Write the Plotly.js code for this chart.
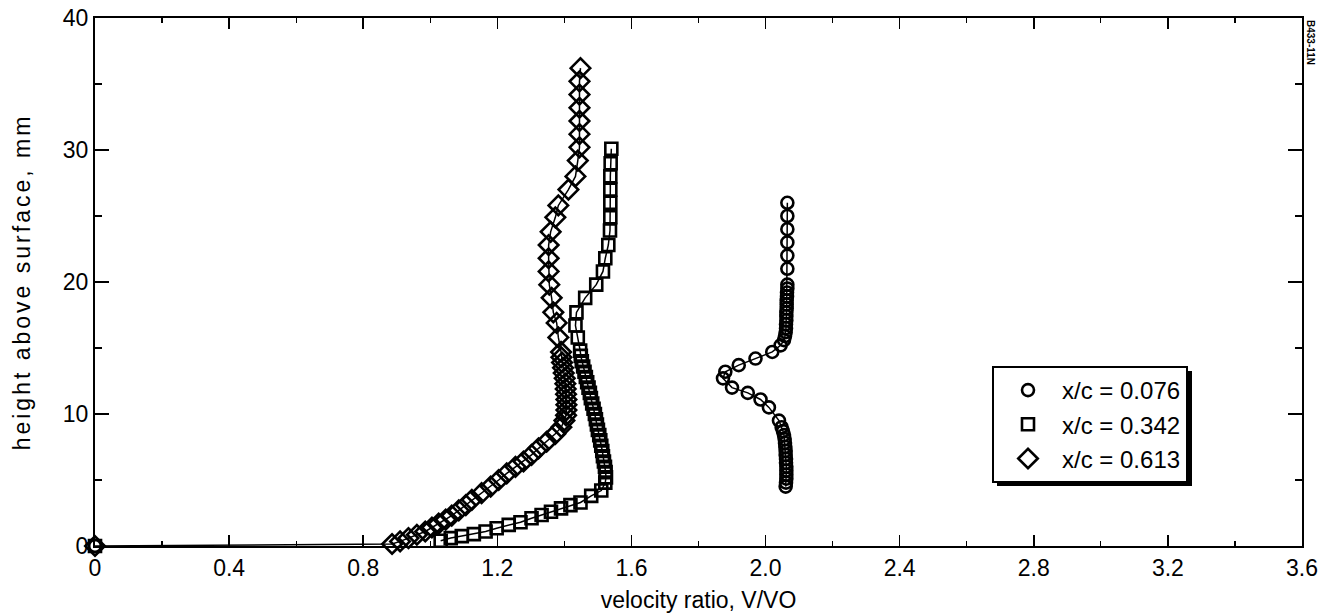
<!DOCTYPE html>
<html>
<head>
<meta charset="utf-8">
<script src="https://cdn.plot.ly/plotly-3.0.1.min.js"></script>
<style>
html,body{margin:0;padding:0;background:#fff;}
#chart{width:1335px;height:615px;}
.ytitle{letter-spacing:3px;}
</style>
</head>
<body>
<div id="chart"></div>
<script>
// x/c = 0.076 (circles)
var circleV = [0, null, 2.060, 2.061, 2.062, 2.062, 2.062, 2.062, 2.061, 2.061, 2.060, 2.060, 2.059, 2.058, 2.057, 2.055, 2.052, 2.048, 2.040, 2.010, 1.985, 1.947, 1.900, 1.873, 1.880, 1.920, 1.970, 2.020, 2.045, 2.055, 2.058, 2.060, 2.061, 2.061, 2.062, 2.062, 2.062, 2.063, 2.063, 2.063, 2.064, 2.064, 2.065, 2.065, 2.065, 2.065, 2.065, 2.065, 2.065, 2.065];
var circleH = [0, null, 4.5, 4.8, 5.1, 5.4, 5.7, 6.0, 6.3, 6.6, 6.9, 7.2, 7.5, 7.8, 8.1, 8.4, 8.7, 9.0, 9.5, 10.5, 11.1, 11.6, 12.0, 12.7, 13.2, 13.7, 14.2, 14.7, 15.2, 15.6, 15.9, 16.2, 16.5, 16.8, 17.1, 17.4, 17.7, 18.0, 18.3, 18.6, 18.9, 19.2, 19.5, 19.8, 21.0, 22.0, 23.0, 24.0, 25.0, 26.0];

// x/c = 0.342 (squares)
var squareV = [0, null, 1.031, 1.061, 1.094, 1.130, 1.165, 1.198, 1.234, 1.269, 1.302, 1.332, 1.360, 1.390, 1.418, 1.448, 1.480, 1.510, 1.522, 1.524, 1.523, 1.521, 1.518, 1.515, 1.513, 1.510, 1.507, 1.504, 1.500, 1.497, 1.494, 1.491, 1.487, 1.483, 1.479, 1.476, 1.472, 1.468, 1.464, 1.460, 1.456, 1.452, 1.449, 1.447, 1.440, 1.433, 1.436, 1.462, 1.495, 1.515, 1.522, 1.531, 1.536, 1.537, 1.537, 1.537, 1.537, 1.538, 1.540];
var squareH = [0, null, 0.4, 0.6, 0.75, 0.9, 1.1, 1.35, 1.6, 1.8, 2.1, 2.35, 2.6, 2.85, 3.1, 3.3, 3.8, 4.2, 4.8, 5.2, 5.6, 6.0, 6.4, 6.8, 7.2, 7.6, 8.0, 8.4, 8.8, 9.2, 9.6, 10.0, 10.4, 10.8, 11.2, 11.6, 12.0, 12.4, 12.8, 13.2, 13.6, 14.0, 14.4, 14.8, 15.8, 16.7, 17.7, 18.8, 19.8, 20.8, 21.8, 22.8, 23.9, 24.9, 26.0, 27.0, 28.0, 29.0, 30.1];

// x/c = 0.613 (diamonds)
var diamondV = [0, 0.886, 0.910, 0.935, 0.960, 0.985, 1.005, 1.025, 1.046, 1.064, 1.085, 1.106, 1.124, 1.153, 1.180, 1.204, 1.228, 1.254, 1.278, 1.302, 1.323, 1.347, 1.373, 1.391, 1.400, 1.405, 1.406, 1.406, 1.406, 1.405, 1.404, 1.403, 1.401, 1.398, 1.396, 1.393, 1.391, 1.390, 1.382, 1.377, 1.367, 1.362, 1.355, 1.353, 1.353, 1.353, 1.359, 1.373, 1.382, 1.412, 1.433, 1.440, 1.445, 1.445, 1.445, 1.445, 1.445, 1.445, 1.448];
var diamondH = [0, 0.15, 0.35, 0.6, 0.85, 1.1, 1.4, 1.7, 2.0, 2.3, 2.7, 3.1, 3.5, 4.0, 4.5, 5.0, 5.5, 6.0, 6.4, 6.9, 7.4, 7.9, 8.5, 9.0, 9.5, 9.9, 10.3, 10.7, 11.1, 11.5, 11.9, 12.3, 12.7, 13.1, 13.5, 13.9, 14.3, 14.7, 15.8, 16.9, 17.7, 18.8, 19.8, 20.8, 21.8, 22.8, 23.8, 24.9, 25.8, 27.0, 28.0, 29.2, 30.2, 31.2, 32.2, 33.2, 34.2, 35.2, 36.2];

var seriesNames = ['x/c = 0.076', 'x/c = 0.342', 'x/c = 0.613'];
var xTickVals = [0, 0.4, 0.8, 1.2, 1.6, 2.0, 2.4, 2.8, 3.2, 3.6];
var xTickText = ['0', '0.4', '0.8', '1.2', '1.6', '2.0', '2.4', '2.8', '3.2', '3.6'];
var yTickVals = [0, 10, 20, 30, 40];
var yTickText = ['0', '10', '20', '30', '40'];

var FONT = 'Liberation Sans, Arial, Helvetica, sans-serif';

function lineTrace(x, y, grp) {
  return {x: x, y: y, type: 'scatter', mode: 'lines', showlegend: false, legendgroup: grp,
    cliponaxis: false, connectgaps: false, hoverinfo: 'skip',
    line: {color: '#000', width: 1.5}};
}
function markerTrace(x, y, name, sym, size, grp) {
  return {x: x, y: y, name: name, type: 'scatter', mode: 'markers', legendgroup: grp,
    cliponaxis: false,
    marker: {symbol: sym, size: size, color: '#000', line: {color: '#000', width: 2.6}}};
}
var data = [
  lineTrace(circleV, circleH, 'a'),
  lineTrace(squareV, squareH, 'b'),
  lineTrace(diamondV, diamondH, 'c'),
  markerTrace(circleV, circleH, seriesNames[0], 'circle-open', 12, 'a'),
  markerTrace(squareV, squareH, seriesNames[1], 'square-open', 12, 'b'),
  markerTrace(diamondV, diamondH, seriesNames[2], 'diamond-open', 15, 'c')
];

function px2x(p) { return (p - 95) / 1207; }
function px2y(p) { return (546 - p) / 528; }

var axisCommon = {
  showgrid: false, zeroline: false, showline: true, linecolor: '#000', linewidth: 2,
  mirror: 'allticks', ticks: 'inside', tickwidth: 1.5, tickcolor: '#000',
  tickfont: {family: FONT, size: 23, color: '#000'}
};

var layout = {
  width: 1335, height: 615,
  margin: {l: 95, r: 33, t: 18, b: 69},
  paper_bgcolor: '#fff', plot_bgcolor: '#fff',
  showlegend: true,
  font: {family: FONT, color: '#000'},
  xaxis: Object.assign({}, axisCommon, {
    range: [0, 3.6], tickmode: 'array', tickvals: xTickVals, ticktext: xTickText, ticklen: 11,
    minor: {dtick: 0.2, ticks: 'inside', ticklen: 5, tickwidth: 1.2, tickcolor: '#000', showgrid: false},
    title: {text: 'velocity ratio, V/VO', font: {family: FONT, size: 23, color: '#000'}, standoff: 12}
  }),
  yaxis: Object.assign({}, axisCommon, {
    range: [0, 40], tickmode: 'array', tickvals: yTickVals, ticktext: yTickText, ticklen: 14,
    minor: {dtick: 5, ticks: 'inside', ticklen: 7, tickwidth: 1.2, tickcolor: '#000', showgrid: false},
    title: {text: 'height above surface, mm', font: {family: FONT, size: 23, color: '#000'}, standoff: 26}
  }),
  legend: {
    x: px2x(992), y: px2y(366), xanchor: 'left', yanchor: 'top',
    bgcolor: '#fff', bordercolor: '#000', borderwidth: 2,
    font: {family: FONT, size: 24, color: '#000'},
    tracegroupgap: 0, itemwidth: 58
  },
  shapes: [{
    type: 'rect', xref: 'paper', yref: 'paper', layer: 'above',
    x0: px2x(997), x1: px2x(1192), y0: px2y(486), y1: px2y(371),
    fillcolor: '#000', line: {width: 0}
  }],
  annotations: [{
    xref: 'paper', yref: 'paper', x: px2x(1310), y: px2y(42), xanchor: 'center', yanchor: 'middle',
    text: '<b>B433-11N</b>', showarrow: false, textangle: 90,
    font: {family: FONT, size: 10, color: '#000'}
  }]
};

Plotly.newPlot('chart', data, layout, {displayModeBar: false, staticPlot: true});
</script>
</body>
</html>
